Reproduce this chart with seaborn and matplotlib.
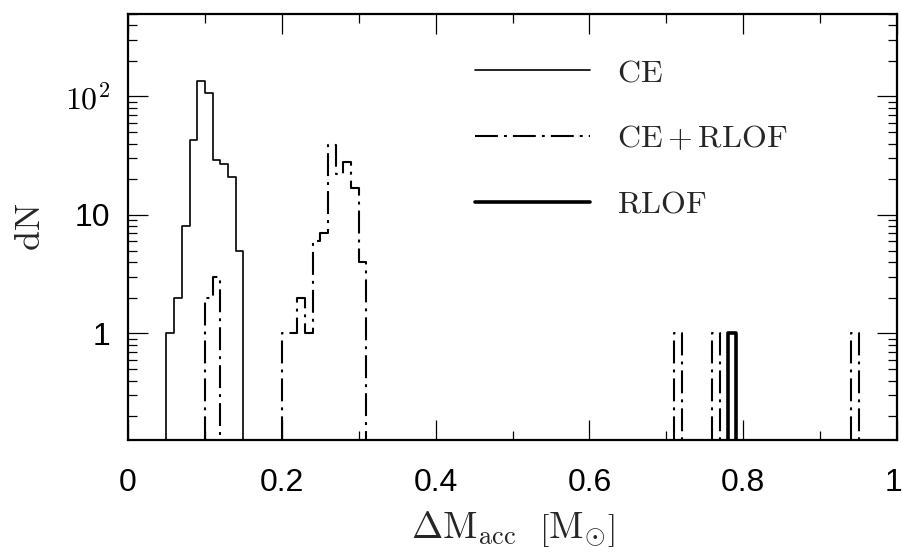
import numpy as np
import pandas as pd
import matplotlib
matplotlib.use("Agg")
import matplotlib.pyplot as plt
import matplotlib.transforms as mtransforms
import seaborn as sns
from matplotlib.lines import Line2D
from matplotlib.ticker import FixedLocator, NullFormatter, LogLocator

# ---- data (bin left edges, bin width 0.01 over 0..1) ----
n_bins = 100
bin_range = (0.0, 1.0)
bin_width = 0.01

ce_left = [0.05, 0.06, 0.07, 0.08, 0.09, 0.10, 0.11, 0.12, 0.13, 0.14]
ce_counts = [1, 2, 8, 43, 136, 106, 29, 27, 21, 5]

cerlof_left = [0.10, 0.11, 0.20, 0.21, 0.22, 0.23, 0.24, 0.25, 0.26, 0.27,
               0.28, 0.29, 0.30, 0.71, 0.76, 0.94]
cerlof_counts = [2, 3, 1, 1, 2, 1, 6, 7, 39, 22, 28, 17, 4, 1, 1, 1]

rlof_left = [0.78]
rlof_counts = [1]

x_ticks = [0.0, 0.2, 0.4, 0.6, 0.8, 1.0]
x_ticklabels = ["0", "0.2", "0.4", "0.6", "0.8", "1"]
y_ticks = [1, 10, 100]
y_ticklabels = ["1", "10", r"$\mathrm{10^{2}}$"]

series_labels = [r"$\mathrm{CE}$", r"$\mathrm{CE+RLOF}$", r"$\mathrm{RLOF}$"]

# ---- style ----
sns.set_style("ticks")
plt.rcParams["font.family"] = ["Liberation Sans", "DejaVu Sans"]
plt.rcParams["mathtext.fontset"] = "cm"
plt.rcParams["axes.unicode_minus"] = False

fig = plt.figure(figsize=(9.02, 5.52), dpi=100)
ax = fig.add_axes([0.1419, 0.2029, 0.8526, 0.7726])

dashdot = (0, (11.0, 2.9, 1.4, 2.9))

styles = [
    dict(linewidth=1.2, linestyle="-"),
    dict(linewidth=1.5, linestyle=dashdot),
    dict(linewidth=2.6, linestyle="-"),
]

datasets = [(ce_left, ce_counts), (cerlof_left, cerlof_counts), (rlof_left, rlof_counts)]
for (left, counts), st in zip(datasets, styles):
    df = pd.DataFrame({"x": np.array(left) + bin_width / 2, "w": np.array(counts, float)})
    sns.histplot(data=df, x="x", weights="w", bins=n_bins, binrange=bin_range,
                 element="step", fill=False, color="black", ax=ax, **st)

ax.set_yscale("log")
ax.set_xlim(0, 1)
ax.set_ylim(0.126, 500)

# ticks
ax.set_xticks(x_ticks)
ax.set_xticklabels(x_ticklabels)
ax.xaxis.set_minor_locator(FixedLocator(np.arange(0.1, 1.0, 0.2)))
ax.set_yticks(y_ticks)
ax.set_yticklabels(y_ticklabels)
ax.yaxis.set_minor_locator(LogLocator(base=10, subs=np.arange(2, 10)))
ax.yaxis.set_minor_formatter(NullFormatter())

ax.tick_params(which="both", direction="in", top=True, right=True, colors="black")
ax.tick_params(which="major", length=14.4, width=0.9)
ax.tick_params(which="minor", length=6.8, width=0.9)
ax.tick_params(axis="x", which="major", labelsize=23, pad=20)
ax.tick_params(axis="y", which="major", labelsize=23, pad=13)
for sp in ax.spines.values():
    sp.set_linewidth(1.6)
    sp.set_color("black")

# nudge the last x tick label so it stays inside the figure
last_lab = ax.get_xticklabels()[-1]
last_lab.set_transform(last_lab.get_transform() +
                       mtransforms.ScaledTranslation(-4 / 100, 0, fig.dpi_scale_trans))

ax.set_xlabel(r"$\Delta\mathrm{M}_{\mathrm{acc}}\ \ \left[\mathrm{M}_{\odot}\right]$",
              fontsize=27, labelpad=9)
ax.set_ylabel(r"$\mathrm{dN}$", fontsize=26, labelpad=12)

handles = [Line2D([], [], color="black", **st) for st in styles]
ax.legend(handles, series_labels, loc="upper left", bbox_to_anchor=(0.451, 0.895),
          frameon=False, fontsize=23, handlelength=3.6, handletextpad=0.85,
          labelspacing=1.12, borderpad=0, borderaxespad=0)

fig.savefig("out.png", dpi=100)
